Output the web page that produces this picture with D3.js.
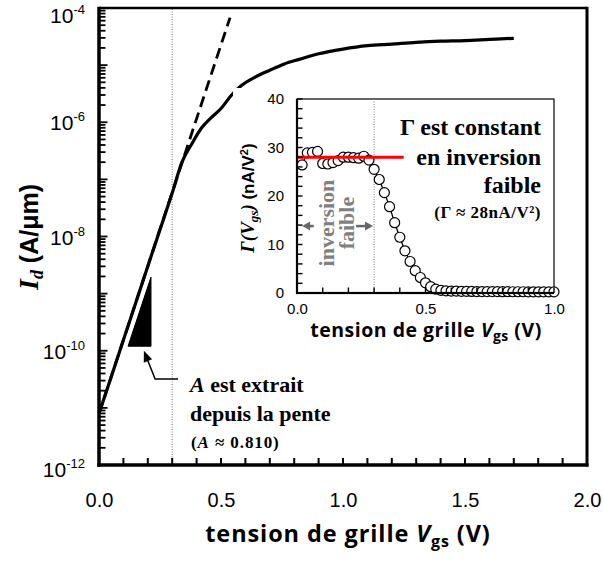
<!DOCTYPE html>
<html>
<head>
<meta charset="utf-8">
<script src="https://cdn.jsdelivr.net/npm/d3@7"></script>
<style>
  body { margin: 0; background: #fff; }
  svg { display: block; }
</style>
</head>
<body>
<script>
// Drain current Id (A/µm) versus gate voltage Vgs (V)
const vgs = [0.00, 0.05, 0.10, 0.15, 0.20, 0.25, 0.30, 0.34, 0.38, 0.42, 0.46, 0.50, 0.54,
             0.58, 0.64, 0.70, 0.76, 0.82, 0.90, 1.00, 1.10, 1.20, 1.30, 1.40, 1.50, 1.60, 1.70];
const idCurrent = [7.94e-12, 3.47e-11, 1.55e-10, 6.76e-10, 3.02e-9, 1.32e-8, 5.75e-8, 2.0e-7,
                   4.17e-7, 7.94e-7, 1.20e-6, 1.74e-6, 2.88e-6, 4.27e-6, 6.17e-6, 8.13e-6,
                   1.05e-5, 1.26e-5, 1.58e-5, 1.91e-5, 2.19e-5, 2.34e-5, 2.51e-5, 2.63e-5,
                   2.69e-5, 2.82e-5, 2.95e-5];

// Exponential (weak inversion) fit, straight on the log axis
const fitVgs = [0.0, 0.537];
const fitId = [7.94e-12, 6.8e-5];

// Slope triangle
const triVgs = [0.119, 0.213, 0.213];
const triId = [1.2e-10, 1.2e-10, 1.95e-9];

// Arrow pointing at the triangle: tail, elbow, tip
const arrowVgs = [0.324, 0.230, 0.184];
const arrowId = [3.2e-11, 3.2e-11, 1.0e-10];

const thresholdVgs = 0.3;

// Inset: Γ(Vgs) in nA/V²
const gVgs = [0.02, 0.04, 0.06, 0.08, 0.10, 0.12, 0.14, 0.16, 0.18, 0.20,
              0.22, 0.24, 0.26, 0.28, 0.30, 0.32, 0.34, 0.36, 0.38, 0.40,
              0.42, 0.44, 0.46, 0.48, 0.50, 0.52, 0.54, 0.56, 0.58, 0.60,
              0.62, 0.64, 0.66, 0.68, 0.70, 0.72, 0.74, 0.76, 0.78, 0.80,
              0.82, 0.84, 0.86, 0.88, 0.90, 0.92, 0.94, 0.96, 0.98, 1.00];
const gamma = [26.4, 28.9, 29.0, 29.2, 26.7, 26.6, 26.9, 27.3, 28.0, 28.0,
               27.9, 27.8, 28.2, 27.4, 25.5, 23.4, 20.7, 17.8, 14.5, 11.5,
               8.7, 6.5, 4.6, 3.2, 2.1, 1.3, 0.8, 0.55, 0.45, 0.40,
               0.38, 0.35, 0.33, 0.32, 0.30, 0.30, 0.29, 0.28, 0.28, 0.27,
               0.27, 0.26, 0.26, 0.26, 0.25, 0.25, 0.25, 0.25, 0.24, 0.24];
const gammaConst = 28;
const gammaConstRange = [0, 0.415];
// weak-inversion range arrows (tail, tip) at this Γ level
const wiArrowLeft = [0.065, 0.02];
const wiArrowRight = [0.23, 0.296];
const wiArrowLevel = 13.8;

// Tick labels
const xTickLabels = [0, 0.5, 1.0, 1.5, 2.0];
const yDecadeLabels = [-12, -10, -8, -6, -4];
const insetXTickLabels = [0, 0.5, 1.0];
const insetYTickLabels = [0, 10, 20, 30, 40];

const W = 603, H = 561;
const sans = "'Liberation Sans', Arial, sans-serif";
const serif = "'Liberation Serif', 'Times New Roman', serif";
const title = "'Open Sans', Lato, sans-serif";
const tickColor = "#000";

const svg = d3.select("body").append("svg").attr("width", W).attr("height", H);

const x = d3.scaleLinear().domain([0, 2]).range([99, 587]);
const y = d3.scaleLog().domain([1e-12, 1e-4]).range([465, 8]);
const xi = d3.scaleLinear().domain([0, 1]).range([297, 554]);
const yi = d3.scaleLinear().domain([0, 40]).range([293, 99]);

// inward tick marks drawn as small filled bars from the scales
function tickBars(layer, vals, pos, fixed, len, horizontal, width) {
  const L = d => (typeof len === "function" ? len(d) : len);
  layer.append("g").selectAll("rect").data(vals).join("rect")
    .attr("x", d => horizontal ? pos(d) - width / 2 : fixed)
    .attr("y", d => horizontal ? fixed - L(d) : pos(d) - width / 2)
    .attr("width", d => horizontal ? width : L(d))
    .attr("height", d => horizontal ? L(d) : width)
    .attr("fill", tickColor);
}
// solid bar between two points (axis lines, frame)
function bar(layer, x1, y1, x2, y2, w) {
  layer.append("rect")
    .attr("x", Math.min(x1, x2) - (x1 === x2 ? w / 2 : 0))
    .attr("y", Math.min(y1, y2) - (y1 === y2 ? w / 2 : 0))
    .attr("width", x1 === x2 ? w : Math.abs(x2 - x1))
    .attr("height", y1 === y2 ? w : Math.abs(y2 - y1))
    .attr("fill", "#000");
}

// ---------- main plot labels ----------
const xAxis = d3.axisBottom(x).tickValues(xTickLabels).tickSize(0).tickPadding(28)
  .tickFormat(d3.format(".1f"));
const gx = svg.append("g").attr("transform", `translate(0,${y.range()[0]})`).call(xAxis);
gx.select(".domain").remove();
gx.selectAll(".tick text").attr("font-family", sans).attr("font-size", 20).attr("fill", "#000");

yDecadeLabels.forEach(e => {
  let cy = y(Math.pow(10, e)) + 8;
  if (e === -4) cy += 7;
  if (e === -12) cy += 4;
  const t = svg.append("text").attr("x", 85).attr("y", cy).attr("text-anchor", "end")
    .attr("font-family", sans).attr("font-size", 21).attr("fill", "#000");
  t.append("tspan").text("10");
  t.append("tspan").attr("font-size", 13).attr("dy", -9).text(String(e));
});

// threshold marker
svg.append("line").attr("x1", x(thresholdVgs)).attr("x2", x(thresholdVgs))
  .attr("y1", y(1e-4) + 1).attr("y2", y(1e-12) - 2)
  .attr("stroke", "#777").attr("stroke-width", 1).attr("stroke-dasharray", "1,1.5");

// ---------- curves ----------
const pts = vgs.map((v, i) => [v, idCurrent[i]]);
svg.append("path").datum(pts)
  .attr("d", d3.line().x(d => x(d[0])).y(d => y(d[1])).curve(d3.curveMonotoneX))
  .attr("fill", "none").attr("stroke", "#000").attr("stroke-width", 3.2);

svg.append("path").datum(fitVgs.map((v, i) => [v, fitId[i]]))
  .attr("d", d3.line().x(d => x(d[0])).y(d => y(d[1])))
  .attr("fill", "none").attr("stroke", "#000").attr("stroke-width", 2.8)
  .attr("stroke-dasharray", "11,6");

svg.append("path").datum(triVgs.map((v, i) => [v, triId[i]]))
  .attr("d", d => d3.line().x(p => x(p[0])).y(p => y(p[1]))(d) + "Z")
  .attr("fill", "#000").attr("stroke", "#000").attr("stroke-width", 1);

// arrow to the triangle
const ap = arrowVgs.map((v, i) => [x(v), y(arrowId[i])]);
svg.append("path").attr("d", d3.line()(ap.slice(0, 2).concat([[
    ap[2][0] + (ap[1][0] - ap[2][0]) * 0.3, ap[2][1] + (ap[1][1] - ap[2][1]) * 0.3]])))
  .attr("fill", "none").attr("stroke", "#000").attr("stroke-width", 1.5);
{
  const [tx, ty] = ap[2], [bx, by] = ap[1];
  const ang = Math.atan2(by - ty, bx - tx);
  const L = 11, Wd = 4.5;
  const px = tx + L * Math.cos(ang), py = ty + L * Math.sin(ang);
  const nx = -Math.sin(ang) * Wd, ny = Math.cos(ang) * Wd;
  svg.append("path").attr("d", `M${tx},${ty}L${px + nx},${py + ny}L${px - nx},${py - ny}Z`).attr("fill", "#000");
}

// annotation
const ann = svg.append("g").attr("font-family", serif).attr("font-weight", "bold").attr("fill", "#000");
{
  const t1 = ann.append("text").attr("x", 190).attr("y", 392).attr("font-size", 22);
  t1.append("tspan").attr("font-style", "italic").text("A");
  t1.append("tspan").text(" est extrait");
  ann.append("text").attr("x", 190).attr("y", 421).attr("font-size", 22).text("depuis la pente");
  const t3 = ann.append("text").attr("x", 191).attr("y", 448).attr("font-size", 17).attr("letter-spacing", 0.9);
  t3.append("tspan").text("(");
  t3.append("tspan").attr("font-style", "italic").text("A");
  t3.append("tspan").text(" ≈ 0.810)");
}

// axis titles
{
  const t = svg.append("text").attr("x", 348).attr("y", 542).attr("text-anchor", "middle")
    .attr("font-family", title).attr("font-weight", "bold").attr("font-size", 23.5)
    .attr("letter-spacing", 0.9).attr("fill", "#000");
  t.append("tspan").text("tension de grille ");
  t.append("tspan").attr("font-style", "italic").text("V");
  t.append("tspan").attr("font-size", 16).attr("dy", 5).text("gs");
  t.append("tspan").attr("dy", -5).text(" (V)");
}
{
  const t = svg.append("text").attr("transform", "translate(38,237) rotate(-90)").attr("text-anchor", "middle")
    .attr("font-weight", "bold").attr("fill", "#000");
  t.append("tspan").attr("font-family", serif).attr("font-style", "italic").attr("font-size", 28).text("I");
  t.append("tspan").attr("font-family", serif).attr("font-style", "italic").attr("font-size", 18).attr("dy", 5).text("d");
  t.append("tspan").attr("font-family", sans).attr("font-size", 25).attr("dy", -5).text(" (A/μm)");
}

// ---------- inset ----------
svg.append("rect").attr("x", 233).attr("y", 88).attr("width", 330).attr("height", 258).attr("fill", "#fff");

svg.append("rect").attr("x", xi(0)).attr("y", yi(40)).attr("width", xi(1) - xi(0)).attr("height", yi(0) - yi(40))
  .attr("fill", "none").attr("stroke", "#000").attr("stroke-width", 1.2);

const xiAxis = d3.axisBottom(xi).tickValues(insetXTickLabels).tickSize(0).tickPadding(10).tickFormat(d3.format(".1f"));
const gxi = svg.append("g").attr("transform", `translate(0,${yi(0)})`).call(xiAxis);
gxi.select(".domain").remove();
gxi.selectAll(".tick text").attr("font-family", sans).attr("font-size", 15).attr("fill", "#000");

const yiAxis = d3.axisLeft(yi).tickValues(insetYTickLabels).tickSize(0).tickPadding(13);
const gyi = svg.append("g").attr("transform", `translate(${xi(0)},0)`).call(yiAxis);
gyi.select(".domain").remove();
gyi.selectAll(".tick text").attr("font-family", sans).attr("font-size", 15).attr("fill", "#000");

svg.append("line").attr("x1", xi(thresholdVgs)).attr("x2", xi(thresholdVgs))
  .attr("y1", yi(40)).attr("y2", yi(0))
  .attr("stroke", "#777").attr("stroke-width", 1).attr("stroke-dasharray", "1,1.5");

// weak inversion label and arrows
{
  const lab = svg.append("text").attr("transform", `translate(334,${yi(wiArrowLevel) - 3}) rotate(-90)`)
    .attr("text-anchor", "middle").attr("font-family", serif).attr("font-weight", "bold")
    .attr("font-size", 22).attr("fill", "#7f7f7f");
  lab.append("tspan").attr("x", 0).attr("y", 0).text("inversion");
  lab.append("tspan").attr("x", 0).attr("y", 20).text("faible");
  [wiArrowLeft, wiArrowRight].forEach(([a, b]) => {
    const x0 = xi(a), x1 = xi(b), yy = yi(wiArrowLevel);
    const dir = Math.sign(x1 - x0);
    svg.append("line").attr("x1", x0).attr("x2", x1 - dir * 7).attr("y1", yy).attr("y2", yy)
      .attr("stroke", "#666").attr("stroke-width", 2.5);
    svg.append("path").attr("d", `M${x1},${yy}L${x1 - dir * 8},${yy - 4.5}L${x1 - dir * 8},${yy + 4.5}Z`)
      .attr("fill", "#666");
  });
}

const gpts = gVgs.map((v, i) => [v, gamma[i]]);
svg.append("path").datum(gpts)
  .attr("d", d3.line().x(d => xi(d[0])).y(d => yi(d[1])))
  .attr("fill", "none").attr("stroke", "#000").attr("stroke-width", 1.3);
svg.append("g").selectAll("circle").data(gpts).join("circle")
  .attr("cx", d => xi(d[0])).attr("cy", d => yi(d[1])).attr("r", 5)
  .attr("fill", "#fff").attr("stroke", "#000").attr("stroke-width", 1.2);

svg.append("line").attr("x1", xi(gammaConstRange[0])).attr("x2", xi(gammaConstRange[1]))
  .attr("y1", yi(gammaConst)).attr("y2", yi(gammaConst))
  .attr("stroke", "#ff0000").attr("stroke-width", 3);

// Γ annotation
{
  const g = svg.append("g").attr("font-family", serif).attr("font-weight", "bold").attr("fill", "#000")
    .attr("text-anchor", "end");
  g.append("text").attr("x", 541).attr("y", 135).attr("font-size", 24).text("Γ est constant");
  g.append("text").attr("x", 541).attr("y", 165).attr("font-size", 24).text("en inversion");
  g.append("text").attr("x", 541).attr("y", 193).attr("font-size", 24).text("faible");
  g.append("text").attr("x", 541).attr("y", 218).attr("font-size", 17).attr("letter-spacing", 0.5).text("(Γ ≈ 28nA/V²)");
}

// inset axis titles
{
  const t = svg.append("text").attr("x", 426).attr("y", 337).attr("text-anchor", "middle")
    .attr("font-family", title).attr("font-weight", "bold").attr("font-size", 19.5)
    .attr("letter-spacing", 0.5).attr("fill", "#000");
  t.append("tspan").text("tension de grille ");
  t.append("tspan").attr("font-style", "italic").text("V");
  t.append("tspan").attr("font-size", 14).attr("dy", 4).text("gs");
  t.append("tspan").attr("dy", -4).text(" (V)");
}
{
  const t = svg.append("text").attr("transform", "translate(254,198) rotate(-90)").attr("text-anchor", "middle")
    .attr("font-weight", "bold").attr("fill", "#000");
  t.append("tspan").attr("font-family", serif).attr("font-style", "italic").attr("font-size", 19).text("Γ(V");
  t.append("tspan").attr("font-family", serif).attr("font-style", "italic").attr("font-size", 13).attr("dy", 4).text("gs");
  t.append("tspan").attr("font-family", serif).attr("font-style", "italic").attr("font-size", 19).attr("dy", -4).text(")");
  t.append("tspan").attr("font-family", sans).attr("font-size", 17).text(" (nA/V");
  t.append("tspan").attr("font-family", sans).attr("font-size", 11).attr("dy", -6).text("2");
  t.append("tspan").attr("font-family", sans).attr("font-size", 17).attr("dy", 6).text(")");
}

// ---------- axis lines, frames and ticks (on top) ----------
const axesLayer = svg.append("g").attr("class", "axes-layer");
const xMinor = d3.range(0, 2.0001, 0.1);
tickBars(axesLayer, xMinor, x, 465, 7, true, 2);
const yTickVals = [];
for (let e = -12; e < -4; e++) for (let m = 1; m <= 9; m++) yTickVals.push(m * Math.pow(10, e));
yTickVals.push(1e-4);
const isDecade = d => Math.abs(Math.log10(d) - Math.round(Math.log10(d))) < 1e-9;
tickBars(axesLayer, yTickVals, y, 99, d => isDecade(d) ? 8.5 : 6.5, false, 1.8);
bar(axesLayer, x(0), y(1e-4), x(2), y(1e-4), 2.5);
bar(axesLayer, x(2), y(1e-4) - 1.2, x(2), y(1e-12) + 1.5, 3);
bar(axesLayer, x(0), y(1e-4) - 1.2, x(0), y(1e-12) + 1.7, 3.5);
bar(axesLayer, x(0) - 1.7, y(1e-12), x(2) + 1.5, y(1e-12), 3.5);

tickBars(axesLayer, d3.range(0, 1.0001, 0.1), xi, yi(0), 5.5, true, 1.4);
tickBars(axesLayer, d3.range(0, 40.001, 2), yi, xi(0), 5.5, false, 1.4);
bar(axesLayer, xi(0), yi(40), xi(0), yi(0) + 1, 2.2);
bar(axesLayer, xi(0) - 1, yi(0), xi(1), yi(0), 2.2);
</script>
</body>
</html>
